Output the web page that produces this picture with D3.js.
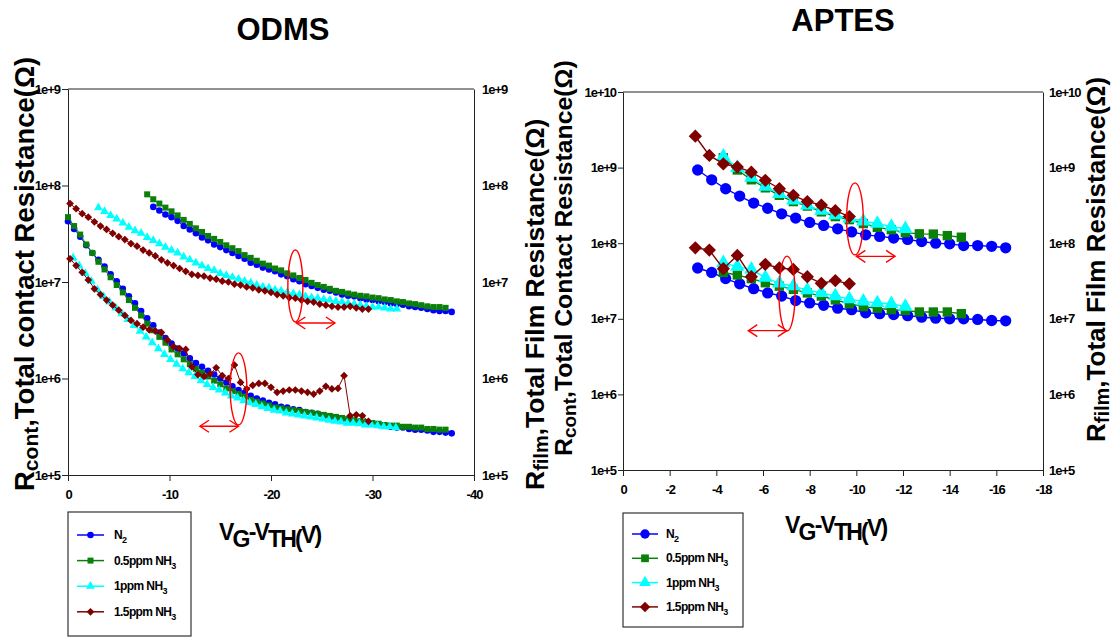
<!DOCTYPE html>
<meta charset="utf-8">
<style>
  body { margin: 0; background: #fff; }
  svg text { font-family: "Liberation Sans", Arial, Helvetica, sans-serif; fill: #000; }
  .axis path, .axis line { stroke: #222; }
  .axis text { font-size: 13px; font-weight: bold; letter-spacing: -1px; }
  .title { font-size: 31px; font-weight: bold; }
  .ytitle { font-weight: bold; }
  .xtitle { font-size: 23px; font-weight: bold; letter-spacing: -1.8px; }
  .legend text { font-size: 12px; font-weight: bold; letter-spacing: -0.6px; }
</style>
<body>
<svg id="chart" width="1115" height="637"></svg>
<script src="https://d3js.org/d3.v7.min.js"></script>
<script>
// ---- series meta ----
var seriesMain = ["N", "0.5ppm NH", "1ppm NH", "1.5ppm NH"];
var seriesSub = ["2", "3", "3", "3"];
var seriesColors = ["#0000ff", "#0a7f0a", "#00ffff", "#800000"];
var seriesShapes = ["circle", "square", "triangle", "diamond"];

// ---- ODMS (left) : VG-VTH (V) and resistance (ohm) ----
var odmsFilmN2V = [-8.4,-9.0,-9.6,-10.2,-10.8,-11.4,-12.0,-12.6,-13.2,-13.8,-14.4,-15.0,-15.6,-16.2,-16.8,-17.4,-18.0,-18.6,-19.2,-19.8,-20.4,-21.0,-21.6,-22.2,-22.8,-23.4,-24.0,-24.6,-25.2,-25.8,-26.4,-27.0,-27.6,-28.2,-28.8,-29.4,-30.0,-30.6,-31.2,-31.8,-32.4,-33.0,-33.6,-34.2,-34.8,-35.4,-36.0,-36.6,-37.2,-37.8];
var odmsFilmN2R = [6.0e7,5.5e7,5.0e7,4.7e7,4.3e7,3.8e7,3.5e7,3.2e7,2.9e7,2.7e7,2.45e7,2.3e7,2.14e7,2.0e7,1.86e7,1.74e7,1.58e7,1.51e7,1.41e7,1.35e7,1.29e7,1.2e7,1.15e7,1.07e7,1.02e7,9.5e6,9.1e6,8.7e6,8.3e6,8.1e6,7.8e6,7.4e6,7.2e6,7.1e6,6.8e6,6.6e6,6.5e6,6.3e6,6.2e6,6.0e6,5.9e6,5.8e6,5.6e6,5.5e6,5.4e6,5.25e6,5.1e6,5.0e6,5.0e6,4.9e6];
var odmsFilm05V = [-7.8,-8.4,-9.0,-9.6,-10.2,-10.8,-11.4,-12.0,-12.6,-13.2,-13.8,-14.4,-15.0,-15.6,-16.2,-16.8,-17.4,-18.0,-18.6,-19.2,-19.8,-20.4,-21.0,-21.6,-22.2,-22.8,-23.4,-24.0,-24.6,-25.2,-25.8,-26.4,-27.0,-27.6,-28.2,-28.8,-29.4,-30.0,-30.6,-31.2,-31.8,-32.4,-33.0,-33.6,-34.2,-34.8,-35.4,-36.0,-36.6,-37.2];
var odmsFilm05R = [8.1e7,7.2e7,6.5e7,5.9e7,5.4e7,4.9e7,4.4e7,4.0e7,3.6e7,3.3e7,3.0e7,2.8e7,2.6e7,2.4e7,2.24e7,2.09e7,1.9e7,1.78e7,1.66e7,1.55e7,1.48e7,1.38e7,1.32e7,1.23e7,1.17e7,1.1e7,1.05e7,9.8e6,9.3e6,8.9e6,8.5e6,8.1e6,7.9e6,7.6e6,7.4e6,7.2e6,7.1e6,6.9e6,6.8e6,6.6e6,6.5e6,6.3e6,6.2e6,6.0e6,5.9e6,5.75e6,5.6e6,5.5e6,5.5e6,5.4e6];
var odmsFilm1V = [-3.0,-3.6,-4.2,-4.8,-5.4,-6.0,-6.6,-7.2,-7.8,-8.4,-9.0,-9.6,-10.2,-10.8,-11.4,-12.0,-12.6,-13.2,-13.8,-14.4,-15.0,-15.6,-16.2,-16.8,-17.4,-18.0,-18.6,-19.2,-19.8,-20.4,-21.0,-21.6,-22.2,-22.8,-23.4,-24.0,-24.6,-25.2,-25.8,-26.4,-27.0,-27.6,-28.2,-28.8,-29.4,-30.0,-30.6,-31.2,-31.8,-32.4];
var odmsFilm1R = [5.9e7,5.4e7,4.9e7,4.5e7,4.1e7,3.7e7,3.4e7,3.2e7,2.9e7,2.7e7,2.5e7,2.3e7,2.14e7,2.0e7,1.82e7,1.7e7,1.58e7,1.48e7,1.38e7,1.32e7,1.23e7,1.17e7,1.12e7,1.07e7,1.02e7,9.8e6,9.3e6,8.9e6,8.7e6,8.3e6,8.1e6,7.8e6,7.6e6,7.4e6,7.1e6,6.9e6,6.8e6,6.6e6,6.5e6,6.3e6,6.2e6,6.0e6,5.9e6,5.75e6,5.6e6,5.5e6,5.5e6,5.4e6,5.25e6,5.25e6];
var odms15V = [-0.2,-0.8,-1.4,-2.0,-2.6,-3.2,-3.8,-4.4,-5.0,-5.6,-6.2,-6.8,-7.4,-8.0,-8.6,-9.2,-9.8,-10.4,-11.0,-11.6,-12.2,-12.8,-13.4,-14.0,-14.6,-15.2,-15.8,-16.4,-17.0,-17.6,-18.2,-18.8,-19.4,-20.0,-20.6,-21.2,-21.8,-22.4,-23.0,-23.6,-24.2,-24.8,-25.4,-26.0,-26.6,-27.2,-27.8,-28.4,-29.0,-29.6];
var odmsFilm15R = [6.5e7,5.75e7,5.1e7,4.7e7,4.2e7,3.8e7,3.5e7,3.2e7,2.95e7,2.75e7,2.5e7,2.35e7,2.14e7,2.0e7,1.86e7,1.7e7,1.58e7,1.48e7,1.38e7,1.29e7,1.2e7,1.17e7,1.15e7,1.1e7,1.07e7,1.02e7,1.0e7,9.5e6,9.3e6,8.9e6,8.7e6,8.3e6,8.1e6,7.8e6,7.4e6,7.2e6,6.9e6,6.8e6,6.5e6,6.3e6,6.2e6,5.9e6,5.75e6,5.6e6,5.5e6,5.5e6,5.6e6,5.4e6,5.25e6,5.25e6];

var odmsContN2V = [0,-0.6,-1.2,-1.8,-2.4,-3.0,-3.6,-4.2,-4.8,-5.4,-6.0,-6.6,-7.2,-7.8,-8.4,-9.0,-9.6,-10.2,-10.8,-11.4,-12.0,-12.6,-13.2,-13.8,-14.4,-15.0,-15.6,-16.2,-16.8,-17.4,-18.0,-18.6,-19.2,-19.8,-20.4,-21.0,-21.6,-22.2,-22.8,-23.4,-24.0,-24.6,-25.2,-25.8,-26.4,-27.0,-27.6,-28.2,-28.8,-29.4,-30.0,-30.6,-31.2,-31.8,-32.4,-33.0,-33.6,-34.2,-34.8,-35.4,-36.0,-36.6,-37.2,-37.8];
var odmsContN2R = [4.27e7,3.55e7,2.95e7,2.4e7,2.0e7,1.7e7,1.45e7,1.2e7,1.02e7,8.5e6,7.1e6,6.0e6,5.0e6,4.2e6,3.55e6,3.0e6,2.63e6,2.3e6,2.04e6,1.82e6,1.62e6,1.45e6,1.32e6,1.2e6,1.1e6,1.0e6,9.1e5,8.3e5,7.6e5,7.1e5,6.6e5,6.2e5,5.9e5,5.6e5,5.4e5,5.1e5,5.0e5,4.8e5,4.7e5,4.5e5,4.4e5,4.3e5,4.1e5,4.0e5,3.9e5,3.8e5,3.7e5,3.6e5,3.55e5,3.45e5,3.4e5,3.3e5,3.25e5,3.16e5,3.1e5,3.1e5,3.0e5,2.95e5,2.95e5,2.9e5,2.8e5,2.8e5,2.75e5,2.7e5];
var odmsCont05V = [0,-0.6,-1.2,-1.8,-2.4,-3.0,-3.6,-4.2,-4.8,-5.4,-6.0,-6.6,-7.2,-7.8,-8.4,-9.0,-9.6,-10.2,-10.8,-11.4,-12.0,-12.6,-13.2,-13.8,-14.4,-15.0,-15.6,-16.2,-16.8,-17.4,-18.0,-18.6,-19.2,-19.8,-20.4,-21.0,-21.6,-22.2,-22.8,-23.4,-24.0,-24.6,-25.2,-25.8,-26.4,-27.0,-27.6,-28.2,-28.8,-29.4,-30.0,-30.6,-31.2,-31.8,-32.4,-33.0,-33.6,-34.2,-34.8,-35.4,-36.0,-36.6,-37.2];
var odmsCont05R = [4.7e7,3.8e7,3.1e7,2.45e7,2.0e7,1.62e7,1.35e7,1.12e7,9.3e6,7.8e6,6.5e6,5.4e6,4.5e6,3.7e6,3.16e6,2.7e6,2.35e6,2.0e6,1.78e6,1.58e6,1.41e6,1.26e6,1.15e6,1.05e6,9.5e5,8.7e5,7.9e5,7.4e5,6.9e5,6.5e5,6.0e5,5.75e5,5.5e5,5.25e5,5.0e5,4.9e5,4.8e5,4.7e5,4.6e5,4.5e5,4.4e5,4.3e5,4.2e5,4.1e5,4.0e5,3.9e5,3.8e5,3.7e5,3.6e5,3.55e5,3.45e5,3.4e5,3.3e5,3.25e5,3.25e5,3.16e5,3.16e5,3.1e5,3.1e5,3.0e5,3.0e5,2.95e5,2.95e5];
var odmsCont1V = [-0.5,-1.1,-1.7,-2.3,-2.9,-3.5,-4.1,-4.7,-5.3,-5.9,-6.5,-7.1,-7.7,-8.3,-8.9,-9.5,-10.1,-10.7,-11.3,-11.9,-12.5,-13.1,-13.7,-14.3,-14.9,-15.5,-16.1,-16.7,-17.3,-17.9,-18.5,-19.1,-19.7,-20.3,-20.9,-21.5,-22.1,-22.7,-23.3,-23.9,-24.5,-25.1,-25.7,-26.3,-26.9,-27.5,-28.1,-28.7,-29.3,-29.9,-30.5,-31.1,-31.7,-32.3];
var odmsCont1R = [1.78e7,1.48e7,1.23e7,1.02e7,8.3e6,7.1e6,6.2e6,5.4e6,4.7e6,4.1e6,3.55e6,3.1e6,2.7e6,2.35e6,2.04e6,1.78e6,1.58e6,1.41e6,1.26e6,1.15e6,1.05e6,9.5e5,8.7e5,8.1e5,7.6e5,7.1e5,6.6e5,6.3e5,5.9e5,5.6e5,5.4e5,5.1e5,4.9e5,4.7e5,4.6e5,4.4e5,4.3e5,4.2e5,4.1e5,4.0e5,3.9e5,3.8e5,3.7e5,3.6e5,3.55e5,3.45e5,3.45e5,3.4e5,3.3e5,3.3e5,3.25e5,3.16e5,3.16e5,3.1e5];
var odmsCont15R = [1.74e7,1.48e7,1.26e7,1.05e7,8.5e6,7.4e6,6.5e6,5.75e6,5.1e6,4.5e6,4.0e6,3.7e6,3.4e6,3.2e6,3.1e6,3.0e6,2.5e6,2.14e6,2.04e6,2.0e6,1.32e6,1.1e6,1.05e6,1.12e6,1.29e6,1.07e6,1.0e6,1.38e6,9.1e5,7.8e5,8.5e5,8.9e5,8.9e5,8.1e5,7.2e5,7.4e5,7.6e5,7.6e5,7.4e5,7.2e5,6.9e5,7.4e5,8.3e5,7.8e5,7.9e5,1.07e6,4.1e5,4.2e5,4.1e5,3.6e5];

// ---- APTES (right) ----
var aptesN2V = [-3.2,-3.8,-4.4,-5.0,-5.6,-6.2,-6.8,-7.4,-8.0,-8.6,-9.2,-9.8,-10.4,-11.0,-11.6,-12.2,-12.8,-13.4,-14.0,-14.6,-15.2,-15.8,-16.4];
var aptes05V = [-4.3,-4.9,-5.5,-6.1,-6.7,-7.3,-7.9,-8.5,-9.1,-9.7,-10.3,-10.9,-11.5,-12.1,-12.7,-13.3,-13.9,-14.5];
var aptes1V = [-4.3,-4.9,-5.5,-6.1,-6.7,-7.3,-7.9,-8.5,-9.1,-9.7,-10.3,-10.9,-11.5,-12.1];
var aptes15V = [-3.1,-3.7,-4.3,-4.9,-5.5,-6.1,-6.7,-7.3,-7.9,-8.5,-9.1,-9.7];
var aptesFilmN2R = [9.3e8,6.9e8,5.25e8,4.2e8,3.4e8,2.9e8,2.45e8,2.15e8,1.88e8,1.72e8,1.55e8,1.41e8,1.29e8,1.23e8,1.17e8,1.12e8,1.05e8,1.0e8,9.8e7,9.3e7,9.3e7,9.1e7,8.7e7];
var aptesFilm05R = [1.35e9,9.3e8,6.9e8,5.4e8,4.3e8,3.55e8,3.1e8,2.6e8,2.25e8,2.05e8,1.82e8,1.62e8,1.51e8,1.38e8,1.33e8,1.32e8,1.26e8,1.2e8];
var aptesFilm1R = [1.41e9,1.0e9,7.4e8,5.6e8,4.5e8,3.7e8,3.16e8,2.7e8,2.35e8,2.14e8,1.95e8,1.82e8,1.66e8,1.55e8];
var aptesFilm15R = [2.6e9,1.45e9,1.12e9,1.02e9,8.7e8,6.8e8,5.25e8,4.3e8,3.55e8,3.2e8,2.7e8,2.25e8];
var aptesContN2R = [4.7e7,4.1e7,3.4e7,2.9e7,2.5e7,2.2e7,2.0e7,1.74e7,1.62e7,1.51e7,1.38e7,1.32e7,1.2e7,1.17e7,1.14e7,1.1e7,1.05e7,1.02e7,1.0e7,1.0e7,9.8e6,9.5e6,9.4e6];
var aptesCont05R = [4.1e7,3.8e7,3.4e7,3.0e7,2.7e7,2.45e7,2.2e7,2.0e7,1.78e7,1.58e7,1.45e7,1.38e7,1.32e7,1.29e7,1.23e7,1.23e7,1.23e7,1.17e7];
var aptesCont1R = [5.5e7,4.9e7,4.5e7,3.5e7,2.95e7,2.7e7,2.4e7,2.2e7,2.0e7,1.82e7,1.7e7,1.62e7,1.58e7,1.45e7];
var aptesCont15R = [8.7e7,8.1e7,4.6e7,6.9e7,3.6e7,5.25e7,4.7e7,4.5e7,3.6e7,2.95e7,3.2e7,2.9e7];

// ---- axis ticks ----
var odmsXTicks = [0, -10, -20, -30, -40];
var odmsYTicks = [1e5, 1e6, 1e7, 1e8, 1e9];
var aptesXTicks = [0, -2, -4, -6, -8, -10, -12, -14, -16, -18];
var aptesYTicks = [1e5, 1e6, 1e7, 1e8, 1e9, 1e10];

var svg = d3.select("#chart");

function expFormat(d) { return "1e+" + Math.round(Math.log10(d)); }

var symbolTypes = { circle: d3.symbolCircle, square: d3.symbolSquare, triangle: d3.symbolTriangle, diamond: d3.symbolSquare };

function markerTransform(shape, px, py) {
  return "translate(" + px + "," + py + ")" + (shape === "diamond" ? " rotate(45)" : "");
}

function makeSeries(vs, rs) {
  return rs.map(function (r, i) {
    return { v: vs[i], r: r, color: seriesColors[i], shape: seriesShapes[i] };
  });
}

function drawPanel(p) {
  var x = d3.scaleLinear().domain(p.xDomain).range([p.left, p.right]);
  var y = d3.scaleLog().domain(p.yDomain).range([p.bottom, p.top]);
  var g = svg.append("g");

  g.append("line")
    .attr("x1", p.left).attr("x2", p.right)
    .attr("y1", p.top).attr("y2", p.top)
    .attr("stroke", "#222");

  g.append("g").attr("class", "axis")
    .attr("transform", "translate(" + p.left + ",0)")
    .call(d3.axisLeft(y).tickValues(p.yTicks).tickFormat(expFormat)
      .tickSizeInner(p.yTickLen).tickSizeOuter(0).tickPadding(2));

  g.append("g").attr("class", "axis")
    .attr("transform", "translate(" + p.right + ",0)")
    .call(d3.axisRight(y).tickValues(p.yTicks).tickFormat(expFormat)
      .tickSizeInner(0).tickSizeOuter(0).tickPadding(p.rightPad));

  g.append("g").attr("class", "axis")
    .attr("transform", "translate(0," + p.bottom + ")")
    .call(d3.axisBottom(x).tickValues(p.xTicks).tickFormat(function (d) { return String(d); })
      .tickSizeInner(6).tickSizeOuter(0).tickPadding(9));

  var line = d3.line().x(function (d) { return x(d[0]); }).y(function (d) { return y(d[1]); });

  p.groups.forEach(function (grp) {
    grp.forEach(function (s) {
      var pts = d3.zip(s.v, s.r);
      g.append("path").datum(pts)
        .attr("d", line)
        .attr("fill", "none")
        .attr("stroke", s.color)
        .attr("stroke-width", p.lineWidth);
      g.append("g").selectAll("path")
        .data(pts)
        .enter().append("path")
        .attr("d", d3.symbol().type(symbolTypes[s.shape]).size(p.markerSizes[s.shape]))
        .attr("transform", function (d) { return markerTransform(s.shape, x(d[0]), y(d[1])); })
        .attr("fill", s.color);
    });
  });

  // red ellipse + double arrow annotations
  p.notes.forEach(function (n) {
    g.append("ellipse")
      .attr("cx", x(n.cx)).attr("cy", y(n.cy))
      .attr("rx", n.rx).attr("ry", n.ry)
      .attr("fill", "none").attr("stroke", "#ff0000").attr("stroke-width", 1.4);
    var ay = y(n.ay), a1 = x(n.a1), a2 = x(n.a2);
    g.append("line")
      .attr("x1", a1).attr("x2", a2).attr("y1", ay).attr("y2", ay)
      .attr("stroke", "#ff0000").attr("stroke-width", 1.4);
    g.append("path")
      .attr("d", "M" + (a1 + 9) + "," + (ay - 6) + "L" + a1 + "," + ay + "L" + (a1 + 9) + "," + (ay + 6) +
                 "M" + (a2 - 9) + "," + (ay - 6) + "L" + a2 + "," + ay + "L" + (a2 - 9) + "," + (ay + 6))
      .attr("fill", "none").attr("stroke", "#ff0000").attr("stroke-width", 1.4);
  });

  // legend
  var lg = svg.append("g").attr("class", "legend");
  lg.append("rect")
    .attr("x", p.legend.x).attr("y", p.legend.y)
    .attr("width", p.legend.w).attr("height", p.legend.h)
    .attr("fill", "#fff").attr("stroke", "#333").attr("stroke-width", 1.2);
  seriesMain.forEach(function (name, i) {
    var ly = p.legend.y + p.legend.first + i * p.legend.gap;
    var lx = p.legend.x + 9;
    lg.append("line")
      .attr("x1", lx).attr("x2", lx + p.legend.lineLen)
      .attr("y1", ly).attr("y2", ly)
      .attr("stroke", seriesColors[i]).attr("stroke-width", 1.5);
    lg.append("path")
      .attr("d", d3.symbol().type(symbolTypes[seriesShapes[i]]).size(p.legend.markerSizes[seriesShapes[i]]))
      .attr("transform", markerTransform(seriesShapes[i], lx + p.legend.lineLen / 2, ly))
      .attr("fill", seriesColors[i]);
    var t = lg.append("text")
      .attr("x", p.legend.x + p.legend.textX).attr("y", ly + 4);
    t.append("tspan").text(name);
    t.append("tspan").attr("dy", 4).attr("font-size", "9px").text(seriesSub[i]);
  });
}

function yTitle(bx, startY, size, sub, rest) {
  var t = svg.append("text")
    .attr("class", "ytitle")
    .attr("font-size", size + "px")
    .attr("transform", "translate(" + bx + "," + startY + ") rotate(-90)");
  t.append("tspan").text("R");
  t.append("tspan").attr("font-size", Math.round(size * 0.77) + "px").attr("dy", 4).text(sub);
  t.append("tspan").attr("dy", -4).text(rest);
}

function xTitle(x0, baseY) {
  var t = svg.append("text").attr("class", "xtitle").attr("x", x0).attr("y", baseY);
  t.append("tspan").text("V");
  t.append("tspan").attr("dy", 7).text("G");
  t.append("tspan").attr("dy", -7).text("-V");
  t.append("tspan").attr("dy", 7).text("TH(");
  t.append("tspan").attr("dy", -4).text("V)");
}

var smallMarkers = { circle: 34, square: 36, triangle: 34, diamond: 30 };
var bigMarkers = { circle: 100, square: 88, triangle: 90, diamond: 88 };

drawPanel({
  left: 68, right: 474, top: 89, bottom: 475,
  xDomain: [0, -40], yDomain: [1e5, 1e9],
  xTicks: odmsXTicks, yTicks: odmsYTicks,
  yTickLen: 6, rightPad: 8, lineWidth: 1,
  markerSizes: smallMarkers,
  groups: [
    makeSeries([odmsFilmN2V, odmsFilm05V, odmsFilm1V, odms15V], [odmsFilmN2R, odmsFilm05R, odmsFilm1R, odmsFilm15R]),
    makeSeries([odmsContN2V, odmsCont05V, odmsCont1V, odms15V], [odmsContN2R, odmsCont05R, odmsCont1R, odmsCont15R])
  ],
  notes: [
    { cx: -22.4, cy: 9.1e6, rx: 7.5, ry: 36, a1: -22.5, a2: -26.3, ay: 3.76e6 },
    { cx: -16.8, cy: 7.8e5, rx: 8.3, ry: 36, a1: -13.0, a2: -16.8, ay: 3.2e5 }
  ],
  legend: { x: 68, y: 512, w: 123, h: 124, first: 23, gap: 25.6, lineLen: 27, textX: 46,
            markerSizes: smallMarkers }
});

drawPanel({
  left: 623, right: 1043, top: 92, bottom: 470,
  xDomain: [0, -18], yDomain: [1e5, 1e10],
  xTicks: aptesXTicks, yTicks: aptesYTicks,
  yTickLen: 5, rightPad: 6, lineWidth: 1.4,
  markerSizes: bigMarkers,
  groups: [
    makeSeries([aptesN2V, aptes05V, aptes1V, aptes15V], [aptesFilmN2R, aptesFilm05R, aptesFilm1R, aptesFilm15R]),
    makeSeries([aptesN2V, aptes05V, aptes1V, aptes15V], [aptesContN2R, aptesCont05R, aptesCont1R, aptesCont15R])
  ],
  notes: [
    { cx: -9.94, cy: 2.1e8, rx: 8.3, ry: 36, a1: -10.0, a2: -11.66, ay: 6.7e7 },
    { cx: -7.03, cy: 2.15e7, rx: 8, ry: 37.5, a1: -5.37, a2: -7.02, ay: 6.97e6 }
  ],
  legend: { x: 623, y: 513, w: 120, h: 114, first: 21, gap: 24.3, lineLen: 26, textX: 43,
            markerSizes: { circle: 70, square: 60, triangle: 60, diamond: 55 } }
});

// titles
svg.append("text").attr("class", "title").attr("x", 283).attr("y", 40).attr("text-anchor", "middle").text("ODMS");
svg.append("text").attr("class", "title").attr("x", 843).attr("y", 31).attr("text-anchor", "middle").text("APTES");

yTitle(34, 491, 27.5, "cont", ",Total contact Resistance(\u03A9)");
yTitle(544, 490, 26.5, "film", ",Total Film Resistance(\u03A9)");
yTitle(572, 456, 24.8, "cont", ",Total Contact Resistance(\u03A9)");
yTitle(1105, 442, 26, "film", ",Total Film Resistance(\u03A9)");

xTitle(219, 540);
xTitle(785, 533);
</script>
</body>
